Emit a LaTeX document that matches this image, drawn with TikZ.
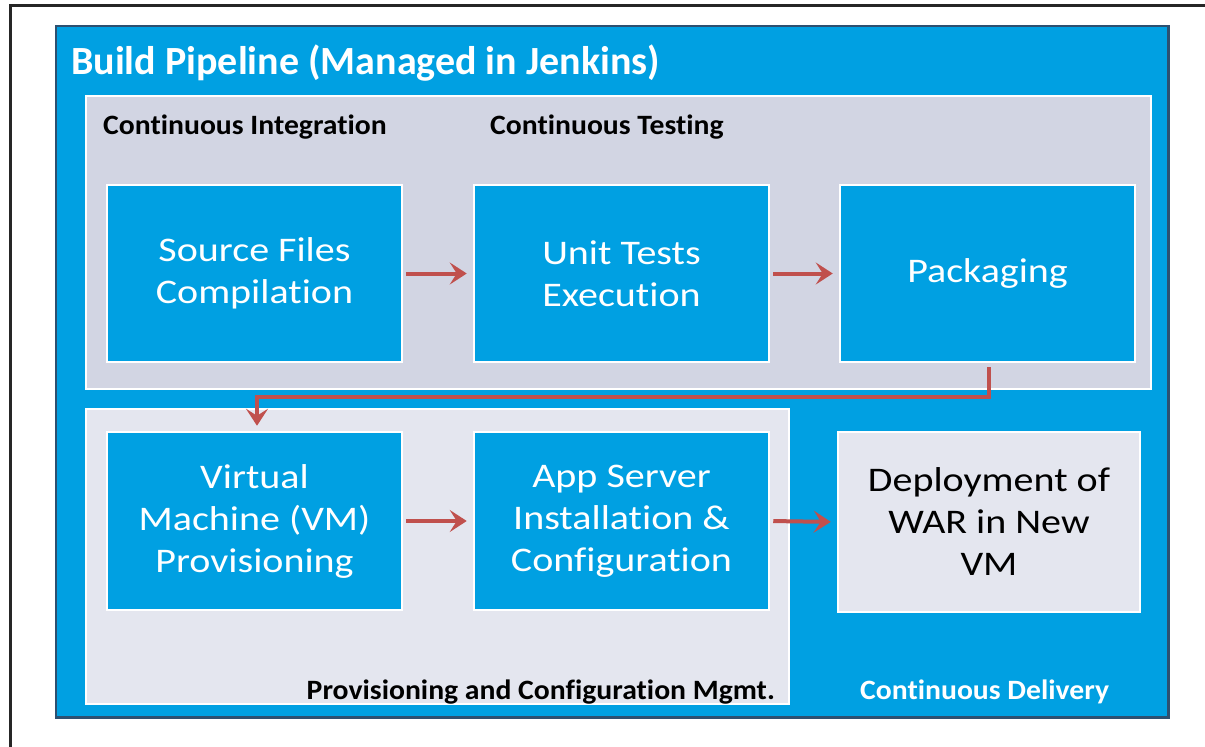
\documentclass[tikz,border=0pt]{standalone}
\usepackage{fontspec}
\setmainfont[Ligatures=NoCommon]{Carlito}
\newfontfamily\stagefont[FakeStretch=1.16,Ligatures=NoCommon]{Carlito}
\newfontfamily\labelfont[FakeStretch=1.06,Ligatures=NoCommon]{Carlito}
\usetikzlibrary{arrows.meta}

\definecolor{pipeblue}{RGB}{0,160,226}
\definecolor{panelgray}{RGB}{210,213,227}
\definecolor{panellight}{RGB}{228,230,239}
\definecolor{flowred}{RGB}{192,80,77}
\definecolor{rimblue}{RGB}{45,80,112}

\begin{document}
\begin{tikzpicture}[x=1pt,y=-1pt,
  stagebox/.style={draw=white, line width=2.5pt, fill=pipeblue, text=white,
    align=center, inner sep=0pt, minimum width=295pt, minimum height=177pt,
    font=\stagefont\fontsize{34.5}{42}\selectfont},
  lightbox/.style={stagebox, fill=panellight, text=black},
  panel/.style={draw=white, line width=2.5pt},
  headlabel/.style={anchor=base west, inner sep=0pt,
    font=\labelfont\bfseries\fontsize{28}{32}\selectfont},
  flow/.style={draw=flowred, line width=4pt,
    -{Stealth[length=17pt,width=22pt,inset=7pt]}},
]
\useasboundingbox (0,0) rectangle (1205,747);
\fill[white] (0,0) rectangle (1205,747);

% frame lines
\draw[line width=3pt, black!85] (10,747) -- (10,5) -- (1205,5);

% outer pipeline area with its dark rim
\fill[rimblue] (55,25) rectangle (1170,719);
\fill[pipeblue] (57,27) rectangle (1167,716);
\node[anchor=base west, inner sep=0pt, text=white,
  font=\bfseries\fontsize{40}{44}\selectfont]
  (title) at (71,74) {Build Pipeline (Managed in Jenkins)};

% group panels
\path[panel, fill=panelgray] (86,96) rectangle (1151,389);
\path[panel, fill=panellight] (86,409) rectangle (789,704);

\node[headlabel] (ci) at (103,134) {Continuous Integration};
\node[headlabel] (ct) at (490,134) {Continuous Testing};
\node[headlabel, anchor=base east] (pcm) at (775,699) {Provisioning and Configuration Mgmt.};
\node[headlabel, text=white] (cd) at (860,699) {Continuous Delivery};

% stages
\node[stagebox] (src) at (254.5,273.5) {Source Files\\Compilation};
\node[stagebox] (unit) at (621.5,273.5) {Unit Tests\\Execution};
\node[stagebox] (pkg) at (987.5,273.5) {Packaging};
\node[stagebox, minimum height=178pt] (vm) at (254.5,521) {Virtual\\Machine (VM)\\Provisioning};
\node[stagebox, minimum height=178pt] (app) at (621.5,521) {App Server\\Installation \&\\Configuration};
\node[lightbox, minimum width=302pt, minimum height=180pt] (dep) at (989,522)
  {Deployment of\\WAR in New\\VM};

% flow connectors
\coordinate (turn) at (0,397);
\draw[flow, shorten <=3pt, shorten >=6pt] (src.east) -- (unit.west);
\draw[flow, shorten <=3pt, shorten >=6pt] (unit.east) -- (pkg.west);
\draw[flow, shorten <=3pt, shorten >=6pt] (vm.east) -- (app.west);
\draw[flow, shorten <=3pt, shorten >=6pt] (app.east) -- (dep.west);
\draw[flow, shorten <=4pt, shorten >=5pt]
  ([xshift=1.5pt]pkg.south) -- ([xshift=1.5pt]pkg.south |- turn)
  -| ([xshift=2.5pt]vm.north);
\end{tikzpicture}
\end{document}
